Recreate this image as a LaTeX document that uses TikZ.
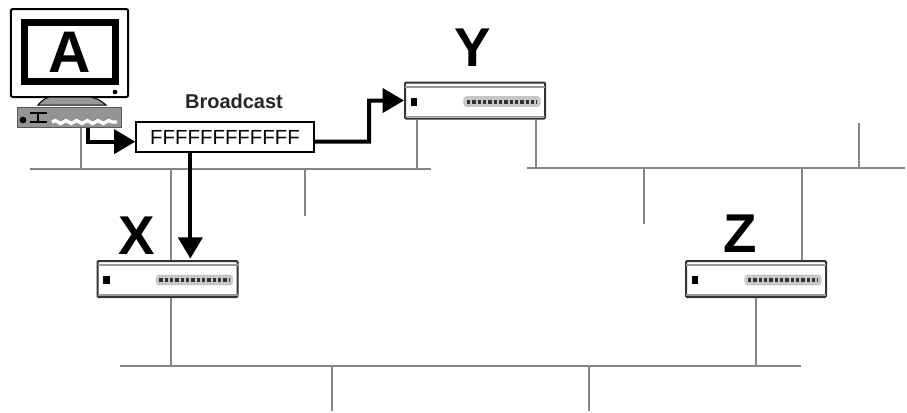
\documentclass[tikz,border=0pt]{standalone}
\usepackage{fontspec}
\setmainfont{Liberation Sans}
\usetikzlibrary{arrows.meta,decorations.pathmorphing}

\tikzset{every picture/.style={line width=0.75pt}}
\tikzset{
  lanwire/.style={draw=black!48,line width=1.5pt},
  sendarrow/.style={draw=black,line width=3pt,line join=miter,-{Triangle[length=16pt,width=18pt]}},
  bigletter/.style={inner sep=0pt,font=\fontsize{41}{41}\selectfont\bfseries},
  bridgebox/.style={draw=black!80,fill=white,line width=1.5pt,minimum width=105pt,minimum height=27pt,inner sep=0pt,rounded corners=0.75pt},
  bridgeled/.style={fill=black,minimum width=5pt,minimum height=6pt,inner sep=0pt},
  bridgeports/.style={fill=black!22,rounded corners=2.5pt,minimum width=58pt,minimum height=8pt,inner sep=0pt}
}
\newcommand{\bridgeunit}[3]{
  \draw (#2,#3) node (bridge#1) [bridgebox] {};
  \draw [draw=black!40,line width=1.5pt] ([shift={(1,5)}]bridge#1.north west) -- ([shift={(-1,5)}]bridge#1.north east);
  \draw [draw=black!40,line width=1pt] ([shift={(1,-3)}]bridge#1.south west) -- ([shift={(-1,-3)}]bridge#1.south east);
  \draw (#2-61,#3+1) node (led#1) [bridgeled] {};
  \draw (#2+27,#3+1) node (ports#1) [bridgeports] {};
  \draw [draw=black!80,line width=3pt,dash pattern=on 2.5pt off 1.5pt] ([xshift=3pt]ports#1.west) -- ([xshift=-3pt]ports#1.east);
}

\begin{document}
\begin{tikzpicture}[x=0.75pt,y=0.75pt,yscale=-1,xscale=1]
\useasboundingbox (0,0) rectangle (907,412);

%Bus ends and stub ends
\coordinate (busLeftW) at (30,169);
\coordinate (busLeftE) at (431,169);
\coordinate (busRightW) at (527,168);
\coordinate (busRightE) at (905,168);
\coordinate (busLowW) at (120,366);
\coordinate (busLowE) at (801,366);
\coordinate (stubLeft) at (305,216);
\coordinate (stubRightA) at (644,224);
\coordinate (stubRightB) at (859,123);
\coordinate (stubLowA) at (332,411);
\coordinate (stubLowB) at (589,411);

%Bridges
\bridgeunit{X}{167.5}{279}
\bridgeunit{Y}{475}{100.5}
\bridgeunit{Z}{756}{279}

%Host A
\draw (69.5,53) node (monitorA) [draw=black,fill=white,line width=1.5pt,rounded corners=1.5pt,minimum width=88pt,minimum height=66pt,inner sep=0pt] {};
\draw (70,52) node (screenA) [draw=black,fill=white,line width=5pt,minimum width=68pt,minimum height=44pt,inner sep=0pt,font=\fontsize{44}{44}\selectfont\bfseries] {\raisebox{-1.5pt}{A}};
\draw (115,92) node (lampA) [circle,fill=black,minimum size=3.5pt,inner sep=0pt] {};
\draw [draw=black,fill=black!40,line width=0.75pt] (38,105) .. controls (44,98) and (48,97) .. (52,97) -- (88,97) .. controls (92,97) and (98,98) .. (106,105) -- cycle;
\draw (69,117) node (nicA) [fill=black!42,draw=black!65,minimum width=78pt,minimum height=15pt,inner sep=0pt] {};
\draw (23,120) node (nicLedA) [circle,fill=black,minimum size=5pt,inner sep=0pt] {};
\draw [draw=black,line width=1pt] (30,113) -- (47,113) (30,122) -- (47,122) (38,113) -- (38,122);
\draw [draw=white,line width=2.5pt,decorate,decoration={snake,amplitude=1.1pt,segment length=8pt}] (52,122) -- (117,122);

%Frame
\draw (225,137) node (frameF) [draw=black,fill=white,line width=1.5pt,minimum width=133pt,minimum height=22.5pt,inner sep=0pt,font=\fontsize{15.3}{16}\selectfont] {FFFFFFFFFFFF};
\draw (234,101) node (labelBroadcast) [inner sep=0pt,text=black!85,font=\fontsize{15}{16}\selectfont\bfseries] {Broadcast};

%Straight Lines
\draw [lanwire] (busLeftW) -- (busLeftE);
\draw [lanwire] (busRightW) -- (busRightE);
\draw [lanwire] (busLowW) -- (busLowE);
\draw [lanwire] ([xshift=9pt]nicA.south) -- ([xshift=9pt]nicA.south |- busLeftW);
\draw [lanwire] ([xshift=2.25pt]bridgeX.north) -- ([xshift=2.25pt]bridgeX.north |- busLeftW);
\draw [lanwire] (stubLeft) -- (stubLeft |- busLeftW);
\draw [lanwire] ([xshift=-43.5pt]bridgeY.south) -- ([xshift=-43.5pt]bridgeY.south |- busLeftW);
\draw [lanwire] ([xshift=46pt]bridgeY.south) -- ([xshift=46pt]bridgeY.south |- busRightW);
\draw [lanwire] (stubRightA) -- (stubRightA |- busRightW);
\draw [lanwire] (stubRightB) -- (stubRightB |- busRightW);
\draw [lanwire] ([xshift=34.5pt]bridgeZ.north) -- ([xshift=34.5pt]bridgeZ.north |- busRightW);
\draw [lanwire] ([xshift=2.6pt]bridgeX.south) -- ([xshift=2.6pt]bridgeX.south |- busLowW);
\draw [lanwire] (bridgeZ.south) -- (bridgeZ.south |- busLowW);
\draw [lanwire] (stubLowA) -- (stubLowA |- busLowW);
\draw [lanwire] (stubLowB) -- (stubLowB |- busLowW);

%Arrows
\draw [sendarrow] ([xshift=14pt]nicA.south) |- ([yshift=3.5pt]frameF.west);
\draw [sendarrow] ([yshift=3.5pt]frameF.east) -- (369,141.7) |- (bridgeY.west);
\draw [sendarrow] ([xshift=-26pt]frameF.south) -- ([xshift=-26pt,yshift=-1pt]frameF.south |- bridgeX.north);

% Text Node
\draw (137,236) node (labelX) [bigletter] {X};
\draw (473,48) node (labelY) [bigletter] {Y};
\draw (740,234) node (labelZ) [bigletter] {Z};

\end{tikzpicture}
\end{document}
